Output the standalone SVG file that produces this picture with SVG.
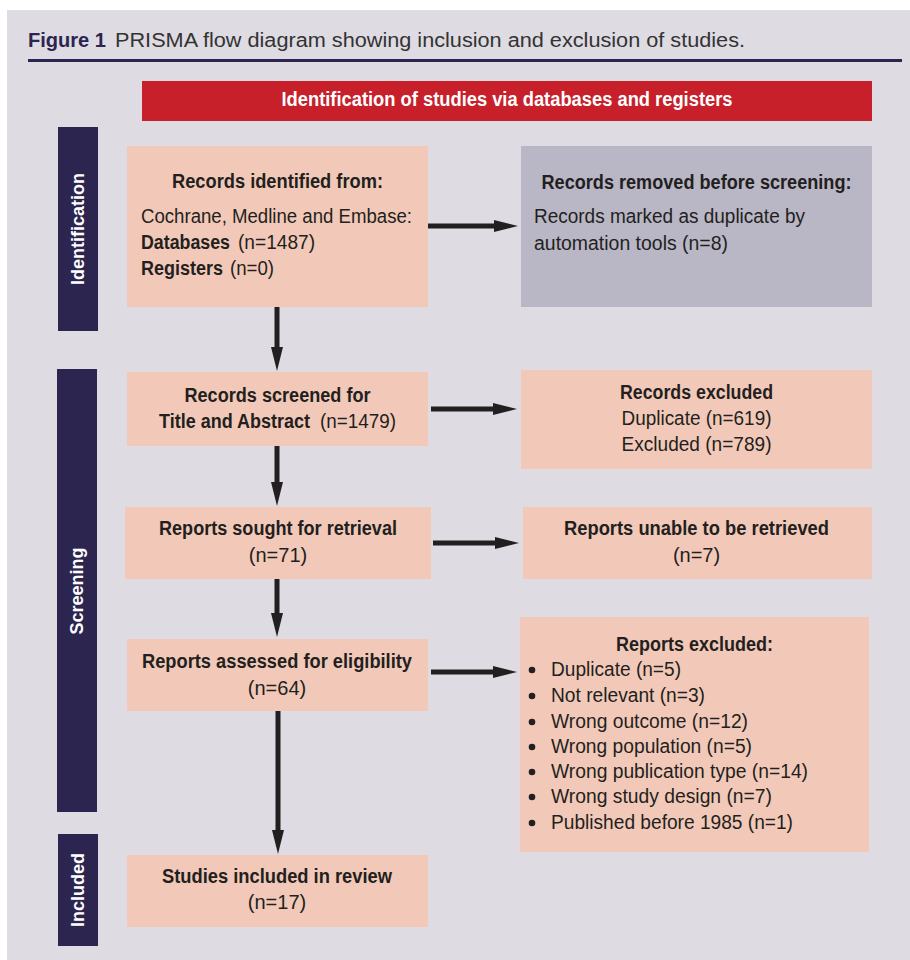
<svg xmlns="http://www.w3.org/2000/svg" width="910" height="960" viewBox="0 0 910 960">
<defs>
<style>
text{font-family:"Liberation Sans",Arial,sans-serif;fill:#231f20;font-size:20px}
.b{font-weight:bold}
.c{text-anchor:middle}
.box{fill:#f2c9b8}
.gbox{fill:#b9b6c5}
.bar{fill:#2c2550}
.side{fill:#fff;font-weight:bold;font-size:18px;text-anchor:middle}
.conn{stroke:#231f20;stroke-width:5;fill:none}
</style>
<marker id="ah" markerUnits="userSpaceOnUse" viewBox="0 -6 24 12" markerWidth="24" markerHeight="12" refX="1" refY="0" orient="auto">
<path d="M0,-6 L24,0 L0,6 z" fill="#231f20"/>
</marker>
</defs>
<rect x="0" y="0" width="910" height="960" fill="#fff"/>
<rect x="7" y="10" width="903" height="950" fill="#dedbe2"/>
<g id="title">
<text x="28" y="47" class="b" style="font-size:20px;fill:#2c2550" textLength="78" lengthAdjust="spacingAndGlyphs">Figure 1</text>
<text x="115" y="47" style="font-size:20px;fill:#333" textLength="630" lengthAdjust="spacingAndGlyphs">PRISMA flow diagram showing inclusion and exclusion of studies.</text>
<rect x="28" y="59" width="874" height="3" fill="#2c2550"/>
</g>
<g id="header">
<rect x="142" y="81" width="730" height="40" fill="#c8202a"/>
<text x="507" y="106" class="b c" style="font-size:20px;fill:#fff" textLength="451" lengthAdjust="spacingAndGlyphs">Identification of studies via databases and registers</text>
</g>
<g id="phase-identification">
<rect class="bar" x="58" y="127" width="40" height="204"/>
<text class="side" transform="translate(84,229) rotate(-90)">Identification</text>
</g>
<g id="phase-screening">
<rect class="bar" x="57" y="369" width="40" height="443"/>
<text class="side" transform="translate(83,591) rotate(-90)">Screening</text>
</g>
<g id="phase-included">
<rect class="bar" x="58" y="834" width="40" height="112"/>
<text class="side" transform="translate(84,890) rotate(-90)">Included</text>
</g>
<g id="records-identified">
<rect class="box" x="127" y="146" width="301" height="161"/>
<text x="277.5" y="188" class="b c" textLength="211" lengthAdjust="spacingAndGlyphs">Records identified from:</text>
<text x="141" y="223" textLength="271" lengthAdjust="spacingAndGlyphs">Cochrane, Medline and Embase:</text>
<text x="141" y="249" class="b" textLength="89" lengthAdjust="spacingAndGlyphs">Databases</text>
<text x="238" y="249" textLength="77" lengthAdjust="spacingAndGlyphs">(n=1487)</text>
<text x="141" y="275" class="b" textLength="82" lengthAdjust="spacingAndGlyphs">Registers</text>
<text x="230" y="275" textLength="44" lengthAdjust="spacingAndGlyphs">(n=0)</text>
</g>
<g id="records-removed">
<rect class="gbox" x="521" y="146" width="351" height="161"/>
<text x="696.5" y="189" class="b c" textLength="310" lengthAdjust="spacingAndGlyphs">Records removed before screening:</text>
<text x="534" y="223" textLength="271" lengthAdjust="spacingAndGlyphs">Records marked as duplicate by</text>
<text x="534" y="250" textLength="194" lengthAdjust="spacingAndGlyphs">automation tools (n=8)</text>
</g>
<g id="records-screened">
<rect class="box" x="127" y="372" width="301" height="74"/>
<text x="277.5" y="402" class="b c" textLength="186" lengthAdjust="spacingAndGlyphs">Records screened for</text>
<text x="159" y="428" class="b" textLength="151" lengthAdjust="spacingAndGlyphs">Title and Abstract</text>
<text x="320" y="428" textLength="76" lengthAdjust="spacingAndGlyphs">(n=1479)</text>
</g>
<g id="records-excluded">
<rect class="box" x="521" y="370" width="351" height="99"/>
<text x="696.5" y="399" class="b c" textLength="153" lengthAdjust="spacingAndGlyphs">Records excluded</text>
<text x="696.5" y="425" class="c" textLength="150" lengthAdjust="spacingAndGlyphs">Duplicate (n=619)</text>
<text x="696.5" y="451" class="c" textLength="150" lengthAdjust="spacingAndGlyphs">Excluded (n=789)</text>
</g>
<g id="reports-sought">
<rect class="box" x="125" y="507" width="306" height="72"/>
<text x="278" y="535" class="b c" textLength="238" lengthAdjust="spacingAndGlyphs">Reports sought for retrieval</text>
<text x="278" y="562" class="c">(n=71)</text>
</g>
<g id="reports-unable">
<rect class="box" x="523" y="507" width="349" height="72"/>
<text x="696.5" y="535" class="b c" textLength="265" lengthAdjust="spacingAndGlyphs">Reports unable to be retrieved</text>
<text x="696.5" y="562" class="c">(n=7)</text>
</g>
<g id="reports-assessed">
<rect class="box" x="127" y="639" width="301" height="72"/>
<text x="277" y="668" class="b c" textLength="270" lengthAdjust="spacingAndGlyphs">Reports assessed for eligibility</text>
<text x="277" y="695" class="c">(n=64)</text>
</g>
<g id="reports-excluded">
<rect class="box" x="520" y="617" width="349" height="235"/>
<text x="694.5" y="651" class="b c" textLength="157" lengthAdjust="spacingAndGlyphs">Reports excluded:</text>
<g fill="#231f20">
<circle cx="532" cy="670" r="3.3"/>
<circle cx="532" cy="696" r="3.3"/>
<circle cx="532" cy="722" r="3.3"/>
<circle cx="532" cy="747" r="3.3"/>
<circle cx="532" cy="772" r="3.3"/>
<circle cx="532" cy="797" r="3.3"/>
<circle cx="532" cy="823" r="3.3"/>
</g>
<text x="551" y="676" textLength="130" lengthAdjust="spacingAndGlyphs">Duplicate (n=5)</text>
<text x="551" y="702" textLength="154" lengthAdjust="spacingAndGlyphs">Not relevant (n=3)</text>
<text x="551" y="728" textLength="197" lengthAdjust="spacingAndGlyphs">Wrong outcome (n=12)</text>
<text x="551" y="753" textLength="201" lengthAdjust="spacingAndGlyphs">Wrong population (n=5)</text>
<text x="551" y="778" textLength="257" lengthAdjust="spacingAndGlyphs">Wrong publication type (n=14)</text>
<text x="551" y="803" textLength="221" lengthAdjust="spacingAndGlyphs">Wrong study design (n=7)</text>
<text x="551" y="829" textLength="242" lengthAdjust="spacingAndGlyphs">Published before 1985 (n=1)</text>
</g>
<g id="studies-included">
<rect class="box" x="127" y="855" width="301" height="72"/>
<text x="277" y="883" class="b c" textLength="230" lengthAdjust="spacingAndGlyphs">Studies included in review</text>
<text x="277" y="909" class="c">(n=17)</text>
</g>
<g id="connectors">
<path class="conn" d="M428,226 H495" marker-end="url(#ah)"/>
<path class="conn" d="M277,307 V348" marker-end="url(#ah)"/>
<path class="conn" d="M431,409 H494" marker-end="url(#ah)"/>
<path class="conn" d="M277,446 V483" marker-end="url(#ah)"/>
<path class="conn" d="M433,543 H496" marker-end="url(#ah)"/>
<path class="conn" d="M277,579 V614" marker-end="url(#ah)"/>
<path class="conn" d="M431,672 H494" marker-end="url(#ah)"/>
<path class="conn" d="M278,711 V831" marker-end="url(#ah)"/>
</g>
</svg>
